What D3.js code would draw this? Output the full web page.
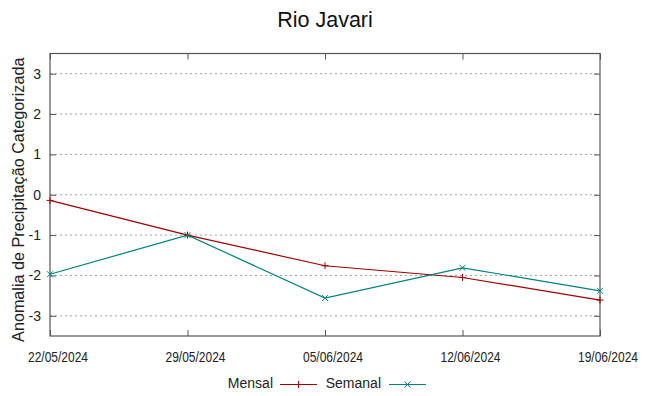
<!DOCTYPE html>
<html><head><meta charset="utf-8">
<script src="https://cdn.jsdelivr.net/npm/d3@7"></script>
<style>body{margin:0;background:#fff}svg{display:block;font-family:"Liberation Sans",Arial,sans-serif}</style>
</head><body><svg id="c" width="649" height="396"></svg>
<script>
const dates = ["22/05/2024","29/05/2024","05/06/2024","12/06/2024","19/06/2024"];
const mensal = [-0.14, -1.0, -1.76, -2.05, -2.61];
const semanal = [-1.97, -1.0, -2.56, -1.81, -2.38];
const yTicks = [-3,-2,-1,0,1,2,3];
const title = "Rio Javari";
const yLabel = "Anomalia de Precipitação Categorizada";

const svg = d3.select("#c");
const L=50,R=600,T=53.5,B=336;
const x = d3.scalePoint().domain(dates).range([L,R]);
const y = d3.scaleLinear().domain([-3.5,3.5]).range([B,T]);

// grid
svg.append("g").selectAll("line").data(yTicks).join("line")
  .attr("x1",L).attr("x2",R).attr("y1",d=>y(d)).attr("y2",d=>y(d))
  .attr("stroke","#a0a0a0").attr("stroke-width",1).attr("stroke-dasharray","2,3");

// axes
const tickStyle = g=>{g.select(".domain").remove();g.selectAll("line").attr("stroke","#555");};
svg.append("g").attr("transform",`translate(${L},0)`)
  .call(d3.axisRight(y).tickValues(yTicks).tickSize(6).tickFormat(""))
  .call(tickStyle);
svg.append("g").attr("transform",`translate(${R},0)`)
  .call(d3.axisLeft(y).tickValues(yTicks).tickSize(6).tickFormat(""))
  .call(tickStyle);
svg.append("g").attr("transform",`translate(0,${B})`)
  .call(d3.axisTop(x).tickSize(6).tickFormat(""))
  .call(tickStyle);
svg.append("g").attr("transform",`translate(0,${T})`)
  .call(d3.axisBottom(x).tickSize(6).tickFormat(""))
  .call(tickStyle);

// y tick labels
svg.append("g").selectAll("text").data(yTicks).join("text")
  .attr("x",L-9).attr("y",d=>y(d)).attr("dy","0.35em")
  .attr("text-anchor","end").attr("font-size",14).attr("fill","#222")
  .text(d=>d);
// x tick labels
svg.append("g").selectAll("text").data(dates).join("text")
  .attr("x",d=>x(d)+8).attr("y",B+25.5)
  .attr("text-anchor","middle").attr("font-size",14.5).attr("fill","#222")
  .style("font-family","'Liberation Sans Narrow','Arial Narrow',sans-serif")
  .attr("textLength",60).attr("lengthAdjust","spacingAndGlyphs")
  .text(d=>d);

// border
svg.append("rect").attr("x",L).attr("y",T).attr("width",R-L).attr("height",B-T)
  .attr("fill","none").attr("stroke","#555").attr("stroke-width",1.2);

// title
svg.append("text").attr("x",325).attr("y",27).attr("text-anchor","middle")
  .attr("font-size",21.5).attr("fill","#111").text(title);
// y label
svg.append("text").attr("transform",`translate(24,${(T+B)/2 + 5}) rotate(-90)`)
  .attr("text-anchor","middle").attr("font-size",16.2).attr("fill","#222").text(yLabel);

const line = d3.line().x((d,i)=>x(dates[i])).y(d=>y(d));
const cM="#a00000", cS="#008080";
svg.append("path").datum(mensal).attr("d",line).attr("fill","none").attr("stroke",cM).attr("stroke-width",1.2);
svg.append("path").datum(semanal).attr("d",line).attr("fill","none").attr("stroke",cS).attr("stroke-width",1.2);
const plus=(g,cx,cy,c)=>{g.append("path").attr("d",`M${cx-3.5},${cy}H${cx+3.5}M${cx},${cy-3.5}V${cy+3.5}`).attr("stroke",c).attr("stroke-width",1);};
const cross=(g,cx,cy,c)=>{g.append("path").attr("d",`M${cx-3},${cy-3}L${cx+3},${cy+3}M${cx-3},${cy+3}L${cx+3},${cy-3}`).attr("stroke",c).attr("stroke-width",1);};
const gm=svg.append("g"), gs=svg.append("g");
mensal.forEach((v,i)=>plus(gm,x(dates[i]),y(v),cM));
semanal.forEach((v,i)=>cross(gs,x(dates[i]),y(v),cS));

// legend
const ly=384.5;
svg.append("text").attr("x",273).attr("y",ly+3.5).attr("text-anchor","end").attr("font-size",14).attr("fill","#222").text("Mensal");
svg.append("line").attr("x1",280).attr("x2",317).attr("y1",ly).attr("y2",ly).attr("stroke",cM).attr("stroke-width",1.2);
plus(svg,298.5,ly,cM);
svg.append("text").attr("x",381).attr("y",ly+3.5).attr("text-anchor","end").attr("font-size",14).attr("fill","#222").text("Semanal");
svg.append("line").attr("x1",389).attr("x2",426).attr("y1",ly).attr("y2",ly).attr("stroke",cS).attr("stroke-width",1.2);
cross(svg,407.5,ly,cS);
</script></body></html>
